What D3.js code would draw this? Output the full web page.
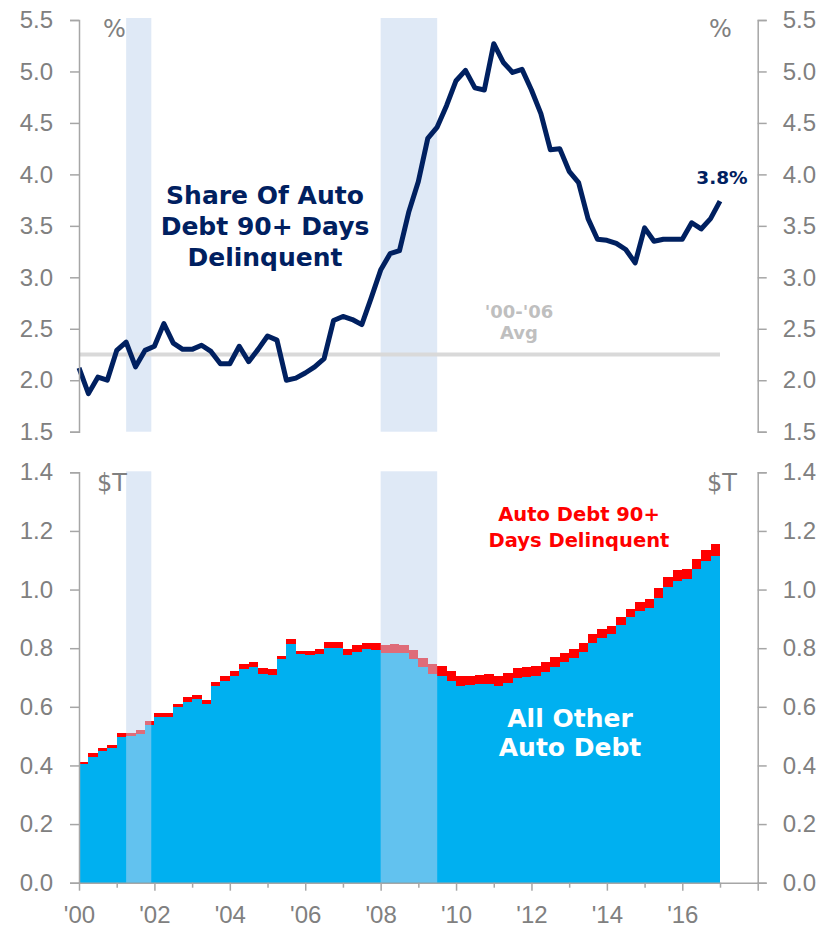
<!DOCTYPE html>
<html>
<head>
<meta charset="utf-8">
<script src="https://cdn.jsdelivr.net/npm/d3@7"></script>
<style>
  html, body { margin: 0; padding: 0; background: #fff; }
  svg { display: block; font-family: "DejaVu Sans", Verdana, sans-serif; }
  .axis path, .axis line { stroke: #a6a6a6; stroke-width: 1.5; }
  .axis text { fill: #808080; font-size: 24px; }
</style>
</head>
<body>
<svg id="chart" width="827" height="928"></svg>
<script>
// quarterly, 2000Q1 .. 2017Q1 (% of auto debt 90+ days delinquent)
const delinqShare = [
  2.12, 1.87, 2.03, 2.00, 2.29, 2.37, 2.13, 2.29, 2.33, 2.55,
  2.36, 2.30, 2.30, 2.34, 2.28, 2.16, 2.16, 2.33, 2.18, 2.30,
  2.43, 2.39, 2.00, 2.02, 2.07, 2.13, 2.21, 2.58, 2.62, 2.59,
  2.54, 2.80, 3.07, 3.23, 3.26, 3.64, 3.93, 4.35, 4.46, 4.67,
  4.91, 5.01, 4.84, 4.82, 5.27, 5.09, 4.99, 5.02, 4.82, 4.59,
  4.24, 4.25, 4.03, 3.92, 3.57, 3.37, 3.36, 3.33, 3.27, 3.14,
  3.48, 3.35, 3.37, 3.37, 3.37, 3.53, 3.47, 3.57, 3.74
];

// quarterly auto debt, $T, 2000Q1 .. 2016Q4
const otherDebt = [
  0.404, 0.430, 0.450, 0.460, 0.498, 0.500, 0.507, 0.538, 0.566, 0.566,
  0.598, 0.615, 0.627, 0.611, 0.671, 0.688, 0.706, 0.728, 0.736, 0.712,
  0.710, 0.762, 0.813, 0.779, 0.776, 0.779, 0.801, 0.801, 0.776, 0.788,
  0.797, 0.793, 0.785, 0.785, 0.785, 0.764, 0.737, 0.711, 0.706, 0.688,
  0.671, 0.674, 0.677, 0.678, 0.672, 0.680, 0.697, 0.703, 0.706, 0.720,
  0.737, 0.754, 0.765, 0.788, 0.816, 0.836, 0.847, 0.879, 0.907, 0.927,
  0.938, 0.972, 1.010, 1.029, 1.036, 1.069, 1.097, 1.116
];
const delinqDebt = [
  0.009, 0.014, 0.011, 0.010, 0.014, 0.012, 0.014, 0.014, 0.014, 0.014,
  0.012, 0.017, 0.013, 0.012, 0.014, 0.017, 0.016, 0.018, 0.017, 0.019,
  0.018, 0.013, 0.018, 0.013, 0.016, 0.017, 0.020, 0.020, 0.020, 0.022,
  0.020, 0.024, 0.025, 0.029, 0.025, 0.030, 0.030, 0.035, 0.034, 0.034,
  0.035, 0.031, 0.031, 0.034, 0.033, 0.034, 0.034, 0.034, 0.034, 0.032,
  0.032, 0.028, 0.031, 0.028, 0.031, 0.029, 0.030, 0.028, 0.027, 0.029,
  0.030, 0.034, 0.034, 0.038, 0.034, 0.035, 0.038, 0.039
];

const avg0006 = 2.25;
const recessions = [[2001.25, 2001.917], [2008.0, 2009.5]];
const topTicks = [1.5, 2.0, 2.5, 3.0, 3.5, 4.0, 4.5, 5.0, 5.5];
const bottomTicks = [0.0, 0.2, 0.4, 0.6, 0.8, 1.0, 1.2, 1.4];
const yearTicks = d3.range(2000, 2019);

const startYear = 2000;
const qDate = i => startYear + i / 4;

const svg = d3.select('#chart');
const left = 79, right = 757.7;

const x = d3.scaleLinear().domain([2000, 2018]).range([left, right]);
const yTop = d3.scaleLinear().domain([1.5, 5.5]).range([431.7, 20]);
const yBot = d3.scaleLinear().domain([0, 1.4]).range([882.7, 472.3]);

const bandColor = '#c0d4ed';
const bandOpacity = 0.51;

// ---------- top panel ----------
const topG = svg.append('g');

topG.selectAll('rect.rec')
  .data(recessions)
  .enter().append('rect')
  .attr('x', d => x(d[0]))
  .attr('width', d => x(d[1]) - x(d[0]))
  .attr('y', yTop(5.5) - 2)
  .attr('height', yTop(1.5) - yTop(5.5) + 2)
  .attr('fill', bandColor)
  .attr('fill-opacity', bandOpacity);

topG.append('line')
  .attr('x1', x(2000)).attr('x2', x(2017))
  .attr('y1', yTop(avg0006)).attr('y2', yTop(avg0006))
  .attr('stroke', '#d9d9d9')
  .attr('stroke-width', 4);

topG.append('path')
  .datum(delinqShare)
  .attr('fill', 'none')
  .attr('stroke', '#002060')
  .attr('stroke-width', 5)
  .attr('stroke-linejoin', 'round')
  .attr('d', d3.line().x((d, i) => x(qDate(i))).y(d => yTop(d)));

topG.append('g').attr('class', 'axis')
  .attr('transform', `translate(${left},0)`)
  .call(d3.axisLeft(yTop).tickValues(topTicks).tickFormat(d3.format('.1f'))
    .tickSize(9).tickPadding(17));

topG.append('g').attr('class', 'axis')
  .attr('transform', `translate(${right},0)`)
  .call(d3.axisRight(yTop).tickValues(topTicks).tickFormat(d3.format('.1f'))
    .tickSize(9).tickPadding(16));

// ---------- bottom panel ----------
const botG = svg.append('g');

const bars = botG.append('g').attr('shape-rendering', 'crispEdges');
bars.selectAll('rect.other')
  .data(otherDebt)
  .enter().append('rect')
  .attr('x', (d, i) => x(qDate(i)))
  .attr('width', (d, i) => x(qDate(i + 1)) - x(qDate(i)))
  .attr('y', d => yBot(d))
  .attr('height', d => yBot(0) - yBot(d))
  .attr('fill', '#00b0f0');

bars.selectAll('rect.delinq')
  .data(delinqDebt)
  .enter().append('rect')
  .attr('x', (d, i) => x(qDate(i)))
  .attr('width', (d, i) => x(qDate(i + 1)) - x(qDate(i)))
  .attr('y', (d, i) => yBot(otherDebt[i] + d))
  .attr('height', (d, i) => yBot(otherDebt[i]) - yBot(otherDebt[i] + d))
  .attr('fill', '#ff0000');

// recession shading sits over the bars here
botG.selectAll('rect.rec')
  .data(recessions)
  .enter().append('rect')
  .attr('x', d => x(d[0]))
  .attr('width', d => x(d[1]) - x(d[0]))
  .attr('y', yBot(1.4) - 1)
  .attr('height', yBot(0) - yBot(1.4) + 1)
  .attr('fill', bandColor)
  .attr('fill-opacity', bandOpacity);

botG.append('g').attr('class', 'axis')
  .attr('transform', `translate(${left},0)`)
  .call(d3.axisLeft(yBot).tickValues(bottomTicks).tickFormat(d3.format('.1f'))
    .tickSize(9).tickPadding(17));

botG.append('g').attr('class', 'axis')
  .attr('transform', `translate(${right},0)`)
  .call(d3.axisRight(yBot).tickValues(bottomTicks).tickFormat(d3.format('.1f'))
    .tickSize(9).tickPadding(16));

const xAxis = botG.append('g').attr('class', 'axis')
  .attr('transform', `translate(0,${yBot(0)})`)
  .call(d3.axisBottom(x).tickValues(yearTicks)
    .tickFormat(d => (d % 2 === 0 && d < 2018) ? "'" + String(d % 100).padStart(2, '0') : '')
    .tickSize(8).tickSizeOuter(0).tickPadding(15));
// odd years get the short tick
xAxis.selectAll('.tick line').attr('y2', d => (d % 2 === 0) ? 8 : 5);

// ---------- labels ----------
function label(g, txt, px, py, opts) {
  return g.append('text')
    .attr('x', px).attr('y', py)
    .attr('text-anchor', opts.anchor || 'start')
    .attr('font-size', opts.size)
    .attr('font-weight', opts.bold ? 'bold' : 'normal')
    .attr('fill', opts.color)
    .text(txt);
}

label(svg, '%', 103, 37, { size: 24, color: '#808080' });
label(svg, '%', 709, 37, { size: 24, color: '#808080' });
label(svg, '$T', 97, 491, { size: 24, color: '#808080' });
label(svg, '$T', 707, 491, { size: 24, color: '#808080' });

['Share Of Auto', 'Debt 90+ Days', 'Delinquent'].forEach((s, k) => {
  label(svg, s, 265, 204 + k * 31, { size: 25, bold: true, color: '#002060', anchor: 'middle' });
});

label(svg, '3.8%', 722, 184, { size: 18.5, bold: true, color: '#002060', anchor: 'middle' });
label(svg, "'00-'06", 519, 318, { size: 18, bold: true, color: '#bfbfbf', anchor: 'middle' });
label(svg, 'Avg', 519, 339, { size: 18, bold: true, color: '#bfbfbf', anchor: 'middle' });

label(svg, 'Auto Debt 90+', 579, 521, { size: 19.5, bold: true, color: '#ff0000', anchor: 'middle' });
label(svg, 'Days Delinquent', 579, 547, { size: 19.5, bold: true, color: '#ff0000', anchor: 'middle' });

label(svg, 'All Other', 570, 727, { size: 25, bold: true, color: '#ffffff', anchor: 'middle' });
label(svg, 'Auto Debt', 570, 756, { size: 25, bold: true, color: '#ffffff', anchor: 'middle' });
</script>
</body>
</html>
